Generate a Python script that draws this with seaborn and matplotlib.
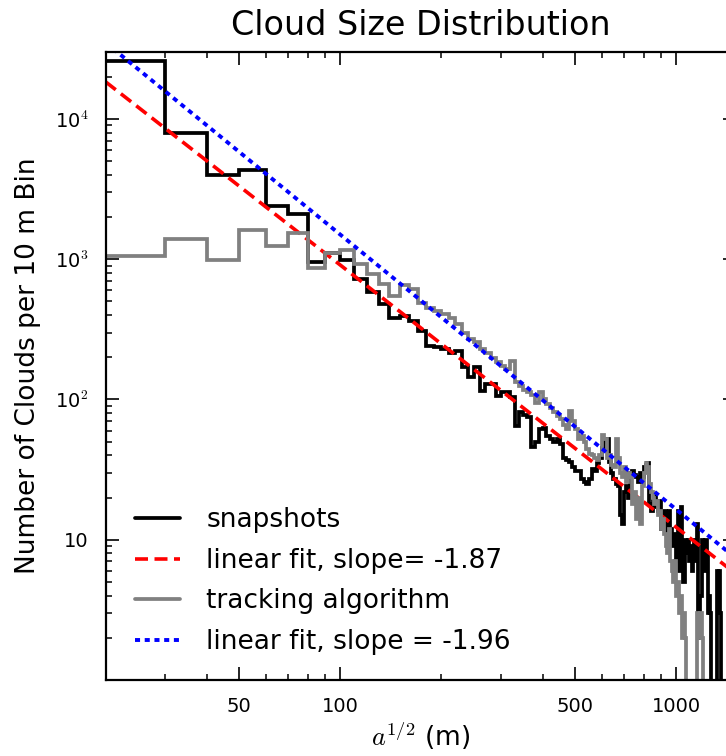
import numpy as np
import pandas as pd
import matplotlib
matplotlib.use("Agg")
import matplotlib.pyplot as plt
from matplotlib.ticker import FixedLocator, FixedFormatter, NullFormatter
import seaborn as sns

# Lower edges of the 10 m size bins (m)
bin_left = list(range(20, 1500, 10))
bin_width = 10

# Clouds per bin, snapshot census
snapshots = [
    25900, 8000, 4000, 4350, 2410, 2110, 960, 1100, 985, 726,
    583, 476, 383, 393, 363, 308, 241, 235, 228, 216,
    222, 169, 144, 169, 115, 129, 129, 106, 113, 113,
    104, 65, 81, 78, 75, 46, 50, 62, 63, 55,
    52, 50, 52, 48, 38, 37, 36, 33, 31, 31,
    27, 26, 25, 27, 32, 31, 35, 38, 45, 50,
    52, 36, 30, 27, 25, 24, 15, 13, 22, 24,
    20, 30, 31, 29, 28, 26, 30, 28, 33, 34,
    35, 18, 16, 19, 21, 17, 16, 19, 12, 14,
    16, 13, 11, 16, 12, 10, 9, 11, 7, 16,
    6, 17, 9, 5, 10, 8, 10, 7, 9, 6,
    8, 10, 7, 13, 2, 2, 4, 10, 9, 6,
    10, 8, 3, 4, 3, 0, 0, 0, 0, 0,
    6, 4, 6, 3, 0, 0, 0, 0, 0, 0,
    0, 0, 0, 0, 0, 0, 0, 0,
]

# Clouds per bin, tracking algorithm
tracking = [
    1050, 1400, 980, 1610, 1235, 1525, 870, 1110, 1165, 917,
    780, 661, 546, 650, 609, 484, 452, 427, 405, 379,
    344, 300, 269, 255, 228, 216, 199, 184, 174, 166,
    188, 133, 125, 116, 113, 108, 95, 113, 100, 93,
    87, 82, 76, 72, 66, 62, 83, 70, 62, 52,
    55, 50, 44, 41, 40, 38, 37, 40, 56, 52,
    38, 40, 34, 33, 52, 38, 30, 28, 33, 26,
    30, 28, 18, 22, 14, 20, 13, 24, 30, 35,
    33, 25, 22, 20, 18, 19, 15, 16, 12, 14,
    11, 9, 8, 12, 7, 6, 5, 7, 4, 5,
    3, 4, 2, 3, 2, 0, 0, 0, 0, 0,
    0, 0, 0, 3, 2, 2, 3, 2, 0, 0,
    0, 0, 0, 0, 0, 0, 0, 0, 0, 0,
    0, 0, 0, 0, 0, 0, 0, 0, 0, 0,
    0, 0, 0, 0, 0, 0, 0, 0,
]

# Power-law fits: log10(N) = intercept + slope * log10(a^1/2)
snap_slope, snap_intercept = -1.87, 6.698
track_slope, track_intercept = -1.96, 7.095

x_ticks = [50, 100, 500, 1000]
x_tick_labels = ["50", "100", "500", "1000"]
x_minor = [20, 30, 40, 60, 70, 80, 90, 200, 300, 400, 600, 700, 800, 900]
y_ticks = [1, 10, 100, 1000, 10000]
y_tick_labels = ["", "10", r"$\mathregular{10}^{2}$", r"$\mathregular{10}^{3}$",
                 r"$\mathregular{10}^{4}$"]

sns.set_style("white")
plt.rcParams.update({
    "font.family": ["DejaVu Sans"],
    "mathtext.fontset": "cm",
    "axes.linewidth": 1.6,
    "axes.edgecolor": "black",
    "text.color": "black",
    "axes.labelcolor": "black",
    "xtick.color": "black",
    "ytick.color": "black",
    "lines.solid_joinstyle": "miter",
})

fig = plt.figure(figsize=(7.26, 7.56), dpi=100)
ax = fig.add_axes([105.5 / 726, 76 / 756, 630 / 726, 628 / 756])


def step_frame(counts):
    edges = bin_left + [bin_left[-1] + bin_width]
    return pd.DataFrame({"size": edges, "count": counts + [counts[-1]]})


fit_x = np.geomspace(20, 1500, 60)


def fit_frame(slope, intercept):
    return pd.DataFrame({"size": fit_x, "count": 10 ** intercept * fit_x ** slope})


snap_df = step_frame(snapshots)
track_df = step_frame(tracking)

sns.lineplot(data=snap_df, x="size", y="count", ax=ax, color="black", lw=2.7,
             drawstyle="steps-post", estimator=None, sort=False,
             label="snapshots")
sns.lineplot(data=fit_frame(snap_slope, snap_intercept), x="size", y="count",
             ax=ax, color="#ff0000", lw=2.6, linestyle=(0, (3.6, 1.8)),
             estimator=None, sort=False,
             label=f"linear fit, slope= {snap_slope:.2f}")
sns.lineplot(data=track_df, x="size", y="count", ax=ax, color="#808080", lw=2.7,
             drawstyle="steps-post", estimator=None, sort=False,
             label="tracking algorithm")
sns.lineplot(data=fit_frame(track_slope, track_intercept), x="size", y="count",
             ax=ax, color="#0000ff", lw=2.8, linestyle=(0, (1.3, 1.2)),
             estimator=None, sort=False,
             label=f"linear fit, slope = {track_slope:.2f}")

ax.set_xscale("log")
ax.set_yscale("log")
ax.set_xlim(20, 1500)
ax.set_ylim(1, 3e4)

ax.xaxis.set_major_locator(FixedLocator(x_ticks))
ax.xaxis.set_major_formatter(FixedFormatter(x_tick_labels))
ax.xaxis.set_minor_locator(FixedLocator(x_minor))
ax.xaxis.set_minor_formatter(NullFormatter())
ax.yaxis.set_major_locator(FixedLocator(y_ticks))
ax.yaxis.set_major_formatter(FixedFormatter(y_tick_labels))
ax.yaxis.set_minor_locator(FixedLocator(
    [m * 10 ** e for e in range(0, 5) for m in range(2, 10)]))
ax.yaxis.set_minor_formatter(NullFormatter())

ax.tick_params(which="both", direction="in", top=True, right=True,
               bottom=True, left=True, color="black")
ax.tick_params(which="major", length=9.5, width=1.2, labelsize=14, pad=12)
ax.tick_params(which="minor", length=4.5, width=1.1)

ax.set_xlabel(r"$a^{1/2}$ (m)", fontsize=19, labelpad=3)
ax.set_ylabel("Number of Clouds per 10 m Bin", fontsize=19, labelpad=10)
ax.set_title("Cloud Size Distribution", fontsize=24, pad=12)

ax.legend(loc="lower left", bbox_to_anchor=(0.047, 0.04), frameon=False,
          fontsize=19, handlelength=1.7, handletextpad=1.0,
          labelspacing=0.55, borderpad=0, borderaxespad=0)

fig.savefig("out.png", dpi=100)
